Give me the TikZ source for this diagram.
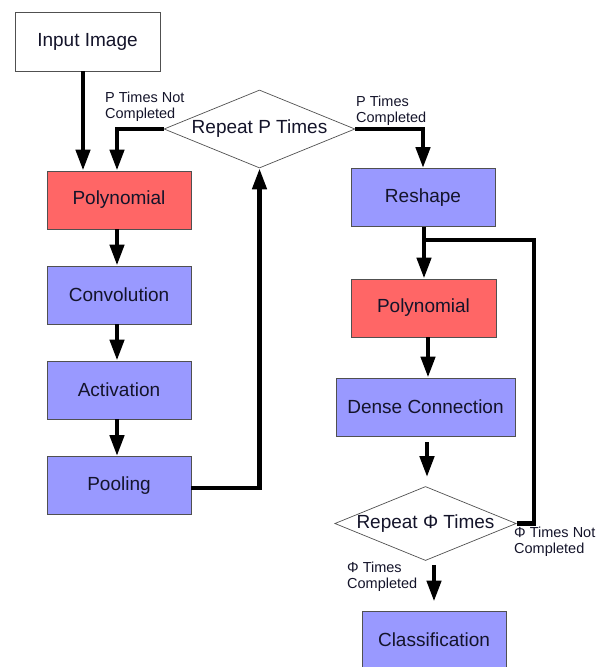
\documentclass[tikz,border=0pt]{standalone}
\usepackage{fontspec}
\setmainfont{Liberation Sans}
\usetikzlibrary{shapes.geometric,arrows.meta,calc}
\definecolor{polyred}{HTML}{FF6666}
\definecolor{stageblue}{HTML}{9999FF}
\definecolor{edgegray}{HTML}{505050}
\definecolor{inktext}{HTML}{14142A}
\tikzset{
  box/.style={draw=edgegray, line width=0.9pt, minimum width=144pt, minimum height=58pt,
              inner sep=0pt, font=\fontsize{19}{21}\selectfont, text=inktext},
  redbox/.style={box, fill=polyred},
  bluebox/.style={box, fill=stageblue},
  decision/.style={draw=edgegray, line width=0.7pt, diamond, inner sep=0pt, shape aspect=2.45,
              font=\fontsize{19}{21}\selectfont, text=inktext},
  arr/.style={line width=4.5pt, -{Triangle[length=21pt,width=14pt]}},
  flow/.style={line width=4.5pt},
  note/.style={font=\fontsize{14.5}{16}\selectfont, align=left, inner sep=0pt, text=inktext}
}
\begin{document}
\begin{tikzpicture}[x=1pt,y=-1pt]
\useasboundingbox (0,0) rectangle (607,667);

% convolution branch
\node[box, fill=white, minimum width=145pt, minimum height=59pt] (inp) at (87.5,41.5) {Input Image};
\node[redbox]  (poly1) at (119,200) {Polynomial};
\node[bluebox] (conv)  at (119,295) {Convolution};
\node[bluebox] (act)   at (119,390) {Activation};
\node[bluebox] (pool)  at (119,485.5) {Pooling};
\node[decision, minimum width=191pt, minimum height=78pt] (repP) at (259.5,129) {Repeat P Times};

% dense branch
\node[bluebox] (resh)  at (423,197.5) {Reshape};
\node[redbox, minimum width=145pt] (poly2) at (423.5,308) {Polynomial};
\node[bluebox, minimum width=179pt] (dense) at (425.5,407) {Dense Connection};
\node[decision, minimum width=179pt, minimum height=73pt] (repF) at (425.5,523.5) {Repeat Φ Times};
\node[bluebox] (cls)   at (434,640) {Classification};

% connectors of the convolution branch
\draw[arr] ([xshift=-4.5pt]inp.south) -- ([xshift=-4.5pt]inp.south |- poly1.north);
\draw[arr] (repP.west) -| ([xshift=-2pt]poly1.north);
\draw[arr] ([xshift=-2pt]poly1.south) -- ([xshift=-2pt]conv.north);
\draw[arr] ([xshift=-2pt]conv.south) -- ([xshift=-2pt]act.north);
\draw[arr] ([xshift=-2pt]act.south) -- ([xshift=-2pt]pool.north);
\draw[arr] ([yshift=-2.5pt]pool.east) -| (repP.south);

% connectors of the dense branch
\draw[arr] (repP.east) -| (resh.north);
\draw[arr] ([xshift=1pt]resh.south) -- ([xshift=1pt]resh.south |- poly2.north);
\coordinate (join) at ($([xshift=1pt]resh.south)!0.25!([xshift=1pt]resh.south |- poly2.north)$);
\draw[arr] ([xshift=4.5pt]poly2.south) -- ([xshift=4.5pt]poly2.south |- dense.north);
\draw[arr, shorten <=6pt, shorten >=9pt] ([xshift=1.5pt]dense.south) -- ([xshift=1.5pt]dense.south |- repF.north);
\draw[flow] (repF.east) -- ++(17.5,0) |- (join);
\draw[arr, shorten <=4pt, shorten >=9pt] (repF.south -| cls.north) -- (cls.north);

% branch labels
\node[note, anchor=north west] (lpn) at (105,92) {P Times Not\\Completed};
\node[note, anchor=north west] (lpc) at (356,96) {P Times\\Completed};
\node[note, anchor=north west] (lfn) at (514,527) {Φ Times Not\\Completed};
\node[note, anchor=north west] (lfc) at (347,562) {Φ Times\\Completed};
\end{tikzpicture}
\end{document}
